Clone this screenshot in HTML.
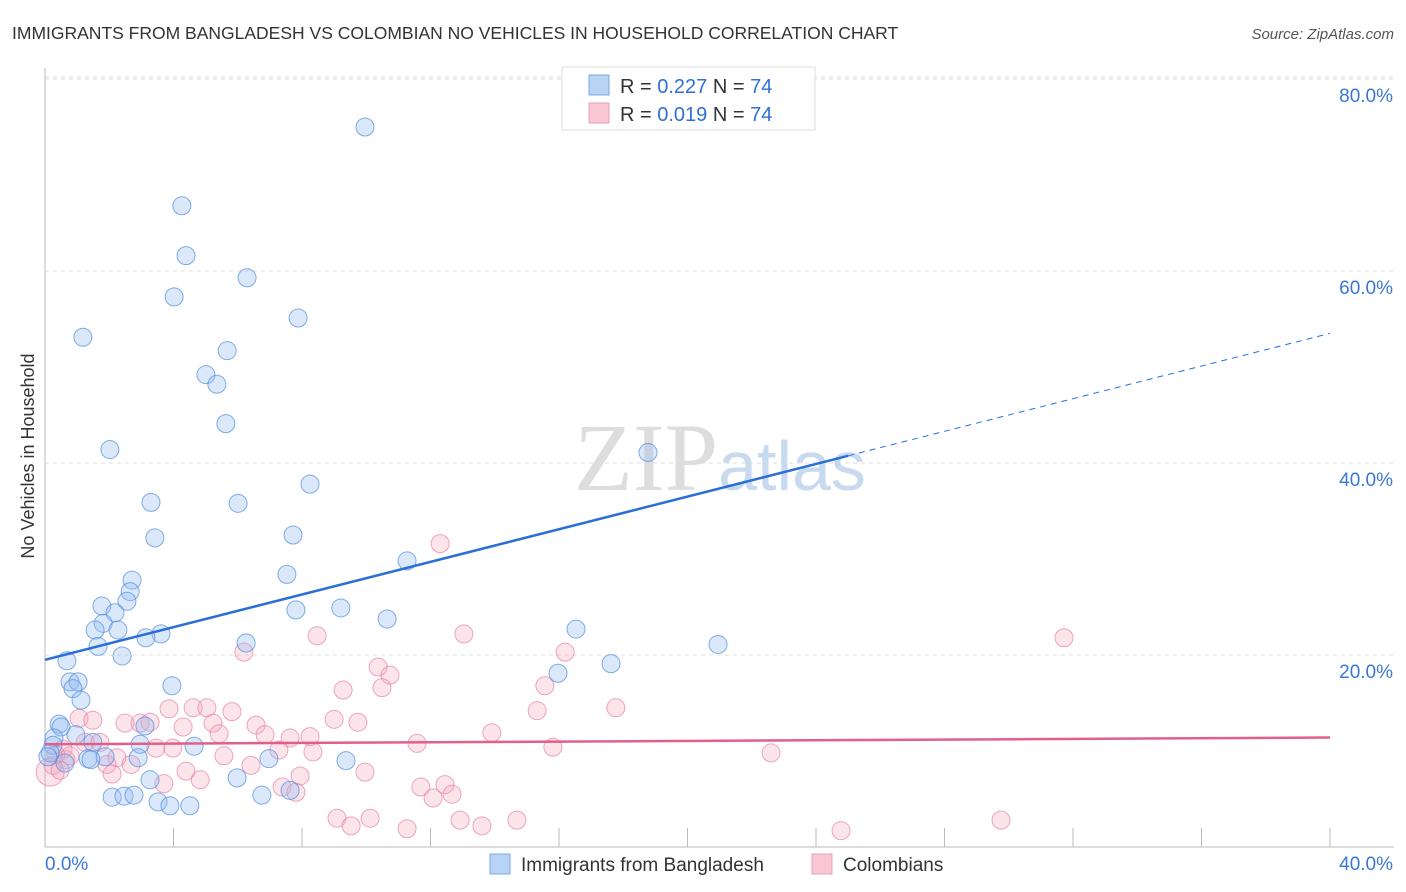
<!DOCTYPE html>
<html><head><meta charset="utf-8"><style>
body{margin:0;background:#fff;font-family:"Liberation Sans",sans-serif}
</style></head><body>
<svg id="c" width="1406" height="892" style="position:absolute;left:0;top:0">
<text x="12" y="39" font-size="17.5" fill="#333">IMMIGRANTS FROM BANGLADESH VS COLOMBIAN NO VEHICLES IN HOUSEHOLD CORRELATION CHART</text>
<text x="1394" y="39" font-size="15" fill="#555" font-style="italic" text-anchor="end">Source: ZipAtlas.com</text>
<text x="0" y="0" transform="translate(34,456) rotate(-90)" font-size="18" fill="#333" text-anchor="middle">No Vehicles in Household</text>
<g id="grid"></g>
<text x="720" y="490" font-size="96" fill="#ddd" text-anchor="middle" font-family="Liberation Serif">ZIP<tspan fill="#c8daf0" font-family="Liberation Sans" font-size="70">atlas</tspan></text>
<g id="pts"></g>
<g id="lines"></g>
<g>
<rect x="562" y="67" width="253" height="63" fill="#fff" stroke="#ddd"/>
<rect x="589" y="75" width="20" height="20" fill="#b9d3f5" stroke="#7aa8e4"/>
<rect x="589" y="103" width="20" height="20" fill="#f9c6d5" stroke="#eba0b8"/>
<text x="620" y="93" font-size="20" fill="#333">R = <tspan fill="#2f6fd6">0.227</tspan>   N = <tspan fill="#2f6fd6">74</tspan></text>
<text x="620" y="121" font-size="20" fill="#333">R = <tspan fill="#2f6fd6">0.019</tspan>   N = <tspan fill="#2f6fd6">74</tspan></text>
</g>
<g>
<rect x="490" y="854" width="20" height="20" fill="#b9d3f5" stroke="#7aa8e4"/>
<text x="521" y="871" font-size="19" fill="#333">Immigrants from Bangladesh</text>
<rect x="812" y="854" width="20" height="20" fill="#f9c6d5" stroke="#eba0b8"/>
<text x="843" y="871" font-size="19" fill="#333">Colombians</text>
</g>
</svg>
<script>
const yTicks=[20,40,60,80];
const yTickLabels=["20.0%","40.0%","60.0%","80.0%"];
const xTicks=[0,4,8,12,16,20,24,28,32,36,40];
const blueX=[9.96,4.26,4.39,4.02,6.29,7.88,1.18,5.67,5.01,5.35,5.63,2.02,18.77,3.30,6.01,8.25,3.42,7.72,11.27,7.53,2.71,2.65,2.55,1.77,2.18,7.81,9.21,1.81,10.65,2.27,1.56,16.53,3.61,3.14,1.65,6.26,20.95,2.40,0.68,17.62,15.97,0.78,1.03,3.95,0.87,1.12,0.44,0.50,3.11,0.96,0.28,0.25,1.49,2.96,4.64,0.16,1.87,1.34,1.43,2.90,6.97,9.37,0.62,3.27,5.98,2.09,2.46,2.77,6.75,7.63,3.52,3.89,4.51,0.09];
const blueY=[75.0,66.8,61.6,57.3,59.3,55.1,53.1,51.7,49.2,48.2,44.1,41.4,41.1,35.9,35.8,37.8,32.2,32.5,29.8,28.4,27.8,26.6,25.6,25.1,24.4,24.7,24.9,23.3,23.75,22.6,22.6,22.7,22.2,21.8,20.9,21.25,21.1,19.9,19.4,19.1,18.1,17.2,17.2,16.8,16.5,15.3,12.8,12.5,12.6,11.7,11.35,10.6,10.9,10.7,10.5,9.8,9.4,9.2,9.1,9.3,9.2,9.0,8.75,7.0,7.2,5.2,5.3,5.4,5.4,5.9,4.7,4.3,4.3,9.4];
const pinkX=[12.30,31.72,8.47,13.04,6.19,16.19,10.37,10.74,9.28,10.49,15.56,3.86,4.61,5.04,5.82,17.77,15.32,1.06,1.49,2.49,2.96,3.27,5.23,6.57,9.00,9.74,4.30,5.42,6.85,7.63,8.25,13.91,1.25,1.71,3.45,3.98,7.28,8.34,11.58,15.81,22.60,0.56,0.34,2.24,1.93,2.68,6.41,5.57,4.39,2.09,4.83,7.94,9.96,3.70,7.38,7.81,11.70,12.45,12.67,12.08,9.09,10.12,9.53,11.27,12.92,13.60,14.69,24.78,29.76,0.25,0.65,0.16,0.78,0.47];
const pinkY=[31.6,21.8,22.0,22.2,20.3,20.3,18.75,17.9,16.35,16.6,16.8,14.4,14.5,14.5,14.1,14.5,14.2,13.4,13.2,12.9,12.9,13.0,12.9,12.7,13.3,13.0,12.5,11.8,11.7,11.35,11.5,11.9,10.9,10.9,10.3,10.3,10.1,9.9,10.8,10.4,9.8,10.2,9.6,9.3,8.6,8.6,8.5,9.5,7.9,7.6,7.0,7.4,7.8,6.6,6.25,5.7,6.25,6.5,5.5,5.1,3.0,3.0,2.2,1.9,2.8,2.2,2.8,1.7,2.8,8.5,9.1,7.8,9.5,8.0];
const blueTrend=[19.5,53.5];
const pinkTrend=[10.7,11.4];
const NS="http://www.w3.org/2000/svg";
const X=v=>45+v/40*1285, Y=v=>847-v*9.6;
function mk(t,a,p){const e=document.createElementNS(NS,t);for(const k in a)e.setAttribute(k,a[k]);p.appendChild(e);return e;}
const g=document.getElementById('grid');
yTicks.forEach((t,i)=>{
 const l=mk('line',{x1:45,x2:1394,y1:Y(t),y2:Y(t),stroke:'#ddd','stroke-dasharray':'4,4'},g);
 
 
 const tx=mk('text',{x:1393,y:Y(t)+23,'font-size':19,fill:'#3a78d8','text-anchor':'end'},g);
 tx.textContent=yTickLabels[i];
 
 
});
mk('line',{x1:45,x2:1394,y1:Y(80)-2,y2:Y(80)-2,stroke:'#ddd','stroke-dasharray':'4,4'},g);
const ax=mk('line',{x1:45,x2:45,y1:68,y2:847,stroke:'#bbb'},g);


const bx=mk('line',{x1:45,x2:1394,y1:847,y2:847,stroke:'#bbb'},g);


xTicks.forEach(t=>{
 const l=mk('line',{x1:X(t),x2:X(t),y1:828,y2:847,stroke:'#bbb'},g);
 
 
});
const x0=mk('text',{x:45,y:870,'font-size':19,fill:'#3a78d8'},g);x0.textContent='0.0%';


const x1=mk('text',{x:1393,y:870,'font-size':19,fill:'#3a78d8','text-anchor':'end'},g);x1.textContent='40.0%';


const P=document.getElementById('pts');
pinkX.forEach((v,i)=>{
 const c=mk('circle',{cx:X(v),cy:Y(pinkY[i]),r:i==71?14:9,fill:'rgba(245,165,190,0.3)',stroke:'rgba(230,130,165,0.7)'},P);
 
 
});
blueX.forEach((v,i)=>{
 const c=mk('circle',{cx:X(v),cy:Y(blueY[i]),r:9,fill:'rgba(150,190,240,0.35)',stroke:'rgba(80,140,220,0.7)'},P);
 
 
});
const L=document.getElementById('lines');
const by=x=>blueTrend[0]+(blueTrend[1]-blueTrend[0])*x/40;
const b1=mk('line',{x1:X(0),y1:Y(by(0)),x2:X(25),y2:Y(by(25)),stroke:'#2a6fd6','stroke-width':2.5},L);


const b2=mk('line',{x1:X(25),y1:Y(by(25)),x2:X(40),y2:Y(by(40)),stroke:'#2a6fd6','stroke-width':1,'stroke-dasharray':'6,5'},L);


const p1=mk('line',{x1:X(0),y1:Y(pinkTrend[0]),x2:X(40),y2:Y(pinkTrend[1]),stroke:'#e0608a','stroke-width':2.5},L);


</script>
</body></html>
